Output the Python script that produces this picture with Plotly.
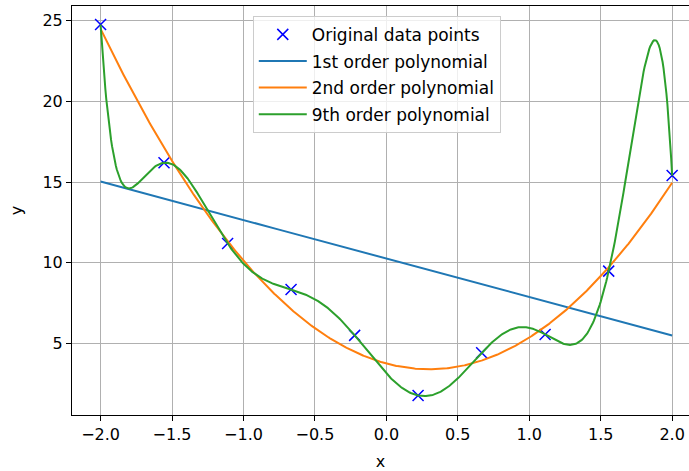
import numpy as np
import plotly.graph_objects as go

# Sample points (x evenly spaced on [-2, 2])
x_data = [-2.0, -1.556, -1.111, -0.667, -0.222, 0.222, 0.667, 1.111, 1.556, 2.0]
y_data = [24.75, 16.19, 11.19, 8.34, 5.50, 1.78, 4.42, 5.56, 9.48, 15.40]

fit_orders = [1, 2, 9]
fit_names = ["1st order polynomial", "2nd order polynomial", "9th order polynomial"]
fit_colors = ["#1f77b4", "#ff7f0e", "#2ca02c"]

x_ticks = [-2.0, -1.5, -1.0, -0.5, 0.0, 0.5, 1.0, 1.5, 2.0]
x_ticktext = ["\u22122.0", "\u22121.5", "\u22121.0", "\u22120.5", "0.0", "0.5", "1.0", "1.5", "2.0"]
y_ticks = [5, 10, 15, 20, 25]

FONT = "DejaVu Sans"

fig = go.Figure()

fig.add_trace(go.Scatter(
    x=x_data, y=y_data, mode="markers", name="Original data points",
    legendgroup="pts",
    marker=dict(symbol="x-thin", size=11, color="blue", line=dict(color="blue", width=1.5)),
))

# Least-squares polynomial fits evaluated on a dense grid
x_fine = np.linspace(min(x_data), max(x_data), 600)
for order, name, color in zip(fit_orders, fit_names, fit_colors):
    coeffs = np.polyfit(x_data, y_data, order)
    fig.add_trace(go.Scatter(
        x=x_fine, y=np.polyval(coeffs, x_fine), mode="lines", name=name,
        legendgroup=f"fit{order}",
        line=dict(color=color, width=2),
    ))

axis_common = dict(
    showgrid=True, gridcolor="#b0b0b0", gridwidth=1,
    showline=True, linecolor="black", linewidth=1,
    ticks="outside", ticklen=5, tickcolor="black", tickwidth=1,
    zeroline=False,
    tickfont=dict(family=FONT, size=16, color="black"),
)

fig.update_xaxes(
    range=[-2.2, 2.118], tickvals=x_ticks, ticktext=x_ticktext, mirror=True,
    title=dict(text="x", font=dict(family=FONT, size=16, color="black"), standoff=13),
    **axis_common,
)
fig.update_yaxes(
    range=[0.57, 25.9], tickvals=y_ticks, mirror=False,
    title=dict(text="y", font=dict(family=FONT, size=16, color="black"), standoff=15),
    **axis_common,
)

fig.update_layout(
    width=689, height=471,
    margin=dict(l=72, r=0, t=6, b=56),
    paper_bgcolor="white", plot_bgcolor="white",
    font=dict(family=FONT, size=16, color="black"),
    showlegend=True,
    legend=dict(
        x=0.293, y=0.976, xanchor="left", yanchor="top",
        bgcolor="rgba(255,255,255,0.8)", bordercolor="#cccccc", borderwidth=1,
        font=dict(family=FONT, size=17, color="black"),
        itemwidth=48, tracegroupgap=1.5,
    ),
)

fig.write_html("out.html")
